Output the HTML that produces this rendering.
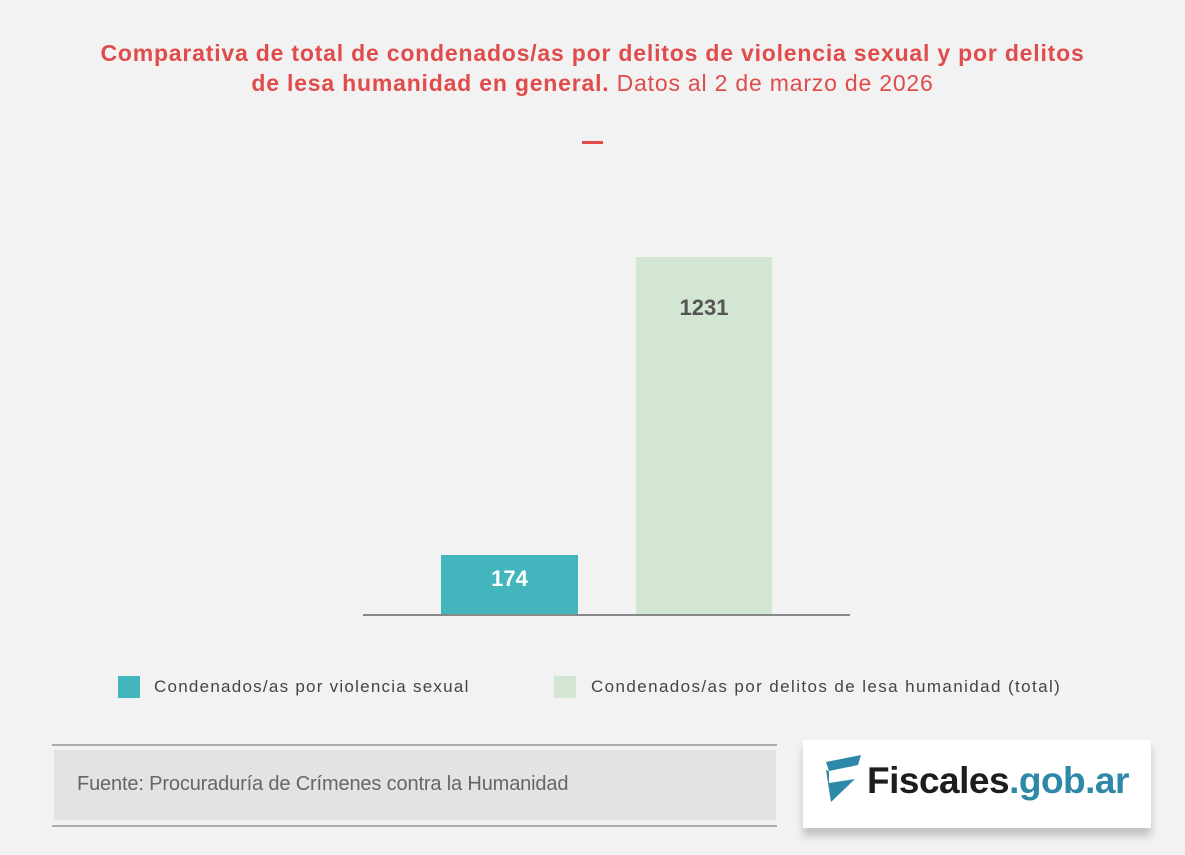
<!DOCTYPE html>
<html><head><meta charset="utf-8"><style>
body{margin:0;width:1185px;height:855px;background:#f2f2f2;position:relative;overflow:hidden;font-family:"Liberation Sans",sans-serif}
.a{position:absolute}
.t{left:0;width:1185px;text-align:center;color:#e04b4b;font-size:23px;line-height:30px;top:38px;letter-spacing:0.8px}
</style></head><body>
<div class="a t"><b>Comparativa de total de condenados/as por delitos de violencia sexual y por delitos<br>de lesa humanidad en general.</b> Datos al 2 de marzo de 2026</div>
<div class="a" style="left:582px;top:141px;width:21px;height:3px;background:#e04b4b"></div>
<div class="a" style="left:441px;top:555px;width:137px;height:60px;background:#43b5bc;color:#fff;font-weight:bold;font-size:22px;text-align:center;line-height:48px">174</div>
<div class="a" style="left:636px;top:257px;width:136px;height:358px;background:#d2e6d3;color:#555;font-weight:bold;font-size:22px;text-align:center;padding-top:38px;box-sizing:border-box">1231</div>
<div class="a" style="left:363px;top:614px;width:487px;height:2px;background:#888"></div>
<div class="a" style="left:118px;top:676px;width:22px;height:22px;background:#43b5bc"></div>
<div class="a" style="left:154px;top:677px;font-size:17px;color:#444;letter-spacing:1.25px">Condenados/as por violencia sexual</div>
<div class="a" style="left:554px;top:676px;width:22px;height:22px;background:#d2e6d3"></div>
<div class="a" style="left:591px;top:677px;font-size:17px;color:#444;letter-spacing:1.4px">Condenados/as por delitos de lesa humanidad (total)</div>
<div class="a" style="left:52px;top:744px;width:725px;height:2px;background:#aaa"></div>
<div class="a" style="left:54px;top:750px;width:722px;height:70px;background:#e3e3e3"></div>
<div class="a" style="left:77px;top:773px;font-size:20px;color:#666;letter-spacing:-0.15px">Fuente: Procuraduría de Crímenes contra la Humanidad</div>
<div class="a" style="left:52px;top:825px;width:725px;height:2px;background:#aaa"></div>
<div class="a" style="left:803px;top:740px;width:348px;height:88px;background:#fff;box-shadow:0 8px 8px rgba(0,0,0,0.2)"></div>
<svg class="a" style="left:825px;top:755px" width="40" height="55"><polygon points="1,7 36,0 33,10 4,16" fill="#2e88a8"/><polygon points="1,15 4,16 4,28 30,24 6,47" fill="#2e88a8"/></svg>
<div class="a" style="left:867px;top:760px;font-size:37px;font-weight:bold;color:#1d1d1d;letter-spacing:-0.5px">Fiscales<span style="color:#2e88a8">.gob.ar</span></div>
</body></html>
